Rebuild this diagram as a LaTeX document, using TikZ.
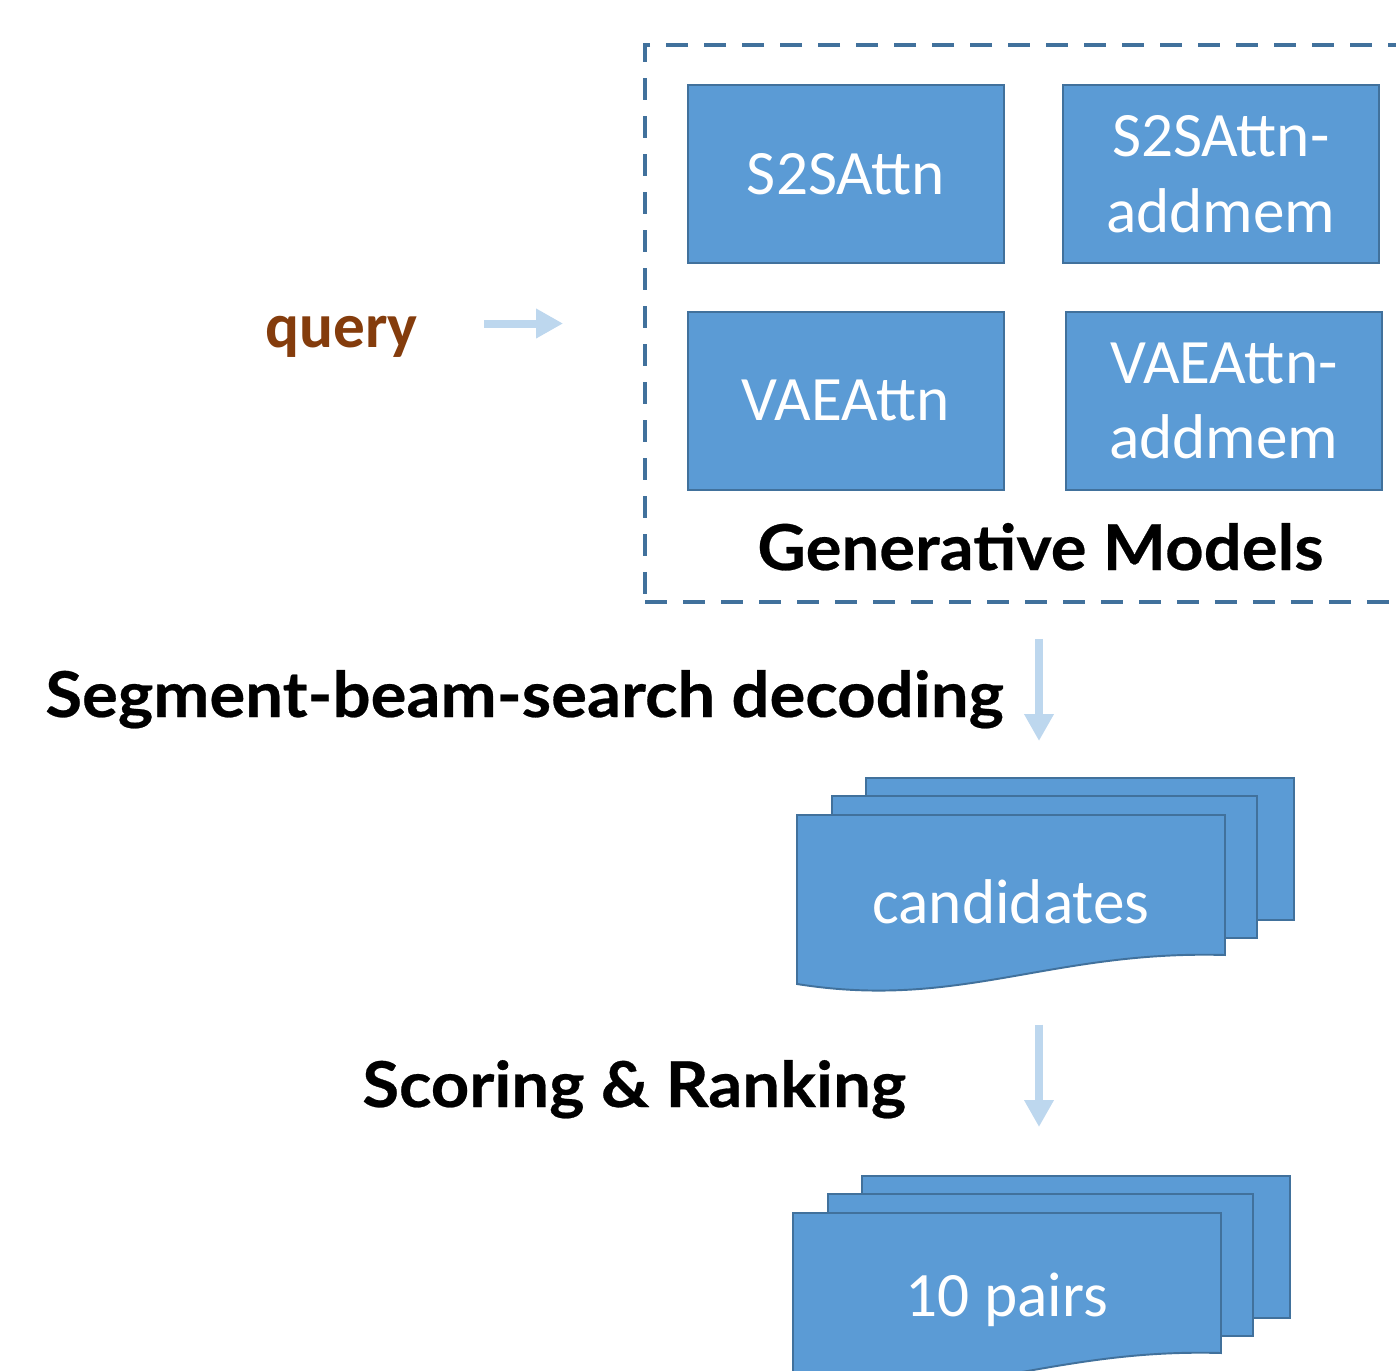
\documentclass[tikz,border=0pt]{standalone}
\usepackage{fontspec}
\usepackage{xcolor}
\usepackage{tikz}
\usetikzlibrary{arrows.meta, positioning, calc}
\newfontfamily\calibri{Carlito}
\newfontfamily\gillbold[FakeStretch=1.06, FakeBold=0.4]{Lato}
\definecolor{boxblue}{RGB}{91,155,213}
\definecolor{boxedge}{RGB}{65,113,156}
\definecolor{arrowblue}{RGB}{189,215,238}
\definecolor{querybrown}{RGB}{132,60,12}
\tikzset{
  model/.style={rectangle, draw=boxedge, fill=boxblue, text=white,
    minimum width=6.32cm, minimum height=3.56cm, align=center,
    font=\calibri\fontsize{36}{43}\selectfont, line width=1.1pt, inner sep=2pt},
  groupbox/.style={rectangle, draw=boxedge, line width=2.3pt,
    dash pattern=on 0.44cm off 0.32cm,
    minimum width=15.76cm, minimum height=11.14cm},
  steplabel/.style={font=\gillbold\bfseries\fontsize{36}{40}\selectfont,
    inner sep=0pt, anchor=base west},
  fatarrow/.style={-{Triangle[length=0.54cm, width=0.56cm]},
    line width=0.16cm, color=arrowblue},
  sheet/.style={draw=boxedge, fill=boxblue, line width=1.1pt},
  stackarea/.style={rectangle, minimum width=9.94cm, minimum height=4.24cm,
    inner sep=0pt},
  doctext/.style={text=white, font=\calibri\fontsize{36}{43}\selectfont}
}

% three stacked sheets, the front one with a wavy bottom
\newcommand{\docstack}[3]{%
  \node[stackarea, anchor=north west] (#1) at (#2) {};
  \draw[sheet] ([shift={(69,0)}]#1.north west) rectangle ++(428,142);
  \draw[sheet] ([shift={(35,18)}]#1.north west) rectangle ++(425,142);
  \draw[sheet] ([shift={(0,37)}]#1.north west) -- ++(428,0) -- ++(0,140)
    .. controls +(-175,-5) and +(163,26) .. ++(-428,29) -- cycle;
  \node[doctext] (#1-text) at ([shift={(214,124)}]#1.north west) {#3};
}

\begin{document}
\begin{tikzpicture}[x=0.02cm, y=-0.02cm]
  \path[use as bounding box, clip] (0,0) rectangle (1396,1370);

  % generative models
  \node[groupbox] (models) at (1039,323.5) {};
  \node[model] (s2s) at (846,174) {S2SAttn};
  \node[model, right=1.14cm of s2s] (s2smem) {S2SAttn-\\addmem};
  \node[model, below=0.94cm of s2s] (vae) {VAEAttn};
  \node[model, right=1.2cm of vae] (vaemem) {VAEAttn-\\addmem};
  \node[steplabel] (genlabel) at (757,570) {Generative Models};

  % input
  \node[font=\calibri\bfseries\fontsize{36}{40}\selectfont, text=querybrown,
    inner sep=0pt, anchor=base west] (query) at (265,347) {query};
  \draw[fatarrow, shorten <=1.32cm, shorten >=1.6cm]
    (query.east |- models.west) -- (models.west);

  % decoding and ranking
  \node[steplabel] (declabel) at (45,717) {Segment-beam-search decoding};
  \docstack{cand}{797,778}{candidates}
  \draw[fatarrow, shorten <=0.7cm, shorten >=0.74cm]
    (models.south) -- (models.south |- cand.north);

  \node[steplabel] (ranklabel) at (362,1107) {Scoring \& Ranking};
  \docstack{pairs}{793,1176}{10 pairs}
  \draw[fatarrow, shorten <=0.68cm, shorten >=0.98cm]
    (models.south |- cand.south) -- (models.south |- pairs.north);
\end{tikzpicture}
\end{document}
